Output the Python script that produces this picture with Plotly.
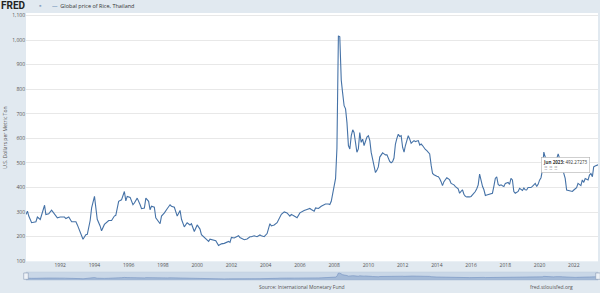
import plotly.graph_objects as go

# ---- data ----
dates = [
"1990-01","1990-02","1990-03","1990-05","1990-08","1990-09","1990-11",
"1991-02","1991-03","1991-05","1991-07","1991-09","1991-11",
"1992-01","1992-04","1992-05","1992-07","1992-09","1992-12",
"1993-01","1993-03","1993-05","1993-07","1993-08","1993-10","1993-11",
"1994-01","1994-03","1994-05","1994-06","1994-08","1994-11",
"1995-01","1995-03","1995-04","1995-06","1995-08","1995-10","1995-11","1995-12",
"1996-02","1996-04","1996-05","1996-07","1996-09","1996-10","1996-12",
"1997-01","1997-03","1997-04","1997-05","1997-07","1997-08","1997-11","1997-12",
"1998-02","1998-04","1998-06","1998-07","1998-09","1998-11",
"1999-01","1999-02","1999-04","1999-06","1999-08","1999-09","1999-11",
"2000-01","2000-03","2000-04","2000-06","2000-09","2000-10",
"2001-01","2001-02","2001-04","2001-06","2001-08","2001-11","2001-12",
"2002-01","2002-03","2002-06","2002-07","2002-10","2002-12",
"2003-02","2003-03","2003-05","2003-07","2003-09","2003-10","2003-12",
"2004-02","2004-04","2004-05","2004-07","2004-09","2004-11","2004-12",
"2005-02","2005-04","2005-06","2005-07","2005-09","2005-11",
"2006-01","2006-02","2006-04","2006-06","2006-08","2006-09","2006-11","2006-12",
"2007-02","2007-04","2007-06","2007-07","2007-09","2007-10","2007-11","2007-12",
"2008-01","2008-02","2008-03","2008-04","2008-05","2008-06","2008-07","2008-08",
"2008-09","2008-10","2008-11","2008-12",
"2009-01","2009-02","2009-03","2009-04","2009-05","2009-06","2009-07","2009-08",
"2009-09","2009-10","2009-11","2009-12",
"2010-01","2010-02","2010-03","2010-04","2010-05","2010-06","2010-07","2010-08",
"2010-09","2010-10","2010-11","2010-12",
"2011-01","2011-02","2011-03","2011-04","2011-05","2011-06","2011-07","2011-08",
"2011-09","2011-10","2011-11","2011-12",
"2012-01","2012-02","2012-03","2012-04","2012-05","2012-06","2012-07","2012-08",
"2012-09","2012-10","2012-11","2012-12",
"2013-01","2013-02","2013-03","2013-04","2013-05","2013-06","2013-07","2013-08",
"2013-09","2013-10","2013-11","2013-12",
"2014-01","2014-02","2014-03","2014-04","2014-05","2014-06","2014-07","2014-08",
"2014-09","2014-10","2014-11","2014-12",
"2015-01","2015-02","2015-03","2015-04","2015-05","2015-06","2015-07","2015-08",
"2015-09","2015-10","2015-11","2015-12",
"2016-01","2016-02","2016-03","2016-04","2016-05","2016-06","2016-07","2016-08",
"2016-09","2016-10","2016-11","2016-12",
"2017-01","2017-02","2017-03","2017-04","2017-05","2017-06","2017-07","2017-08",
"2017-09","2017-10","2017-11","2017-12",
"2018-01","2018-02","2018-03","2018-04","2018-05","2018-06","2018-07","2018-08",
"2018-09","2018-10","2018-11","2018-12",
"2019-01","2019-02","2019-03","2019-04","2019-05","2019-06","2019-07","2019-08",
"2019-09","2019-10","2019-11","2019-12",
"2020-01","2020-02","2020-03","2020-04","2020-05","2020-06","2020-07","2020-08",
"2020-09","2020-10","2020-11","2020-12",
"2021-01","2021-02","2021-03","2021-04","2021-05","2021-06","2021-07","2021-08",
"2021-09","2021-10","2021-11","2021-12",
"2022-01","2022-02","2022-03","2022-04","2022-05","2022-06","2022-07","2022-08",
"2022-09","2022-10","2022-11","2022-12",
"2023-01","2023-02","2023-03","2023-04","2023-05","2023-06",
]
rice_price = [
290,304,284,257,261,280,270,
328,290,293,308,293,277,
280,280,274,280,261,261,
248,217,190,208,210,266,317,
364,271,244,224,250,266,
266,284,287,344,350,384,346,364,
360,330,337,357,330,314,317,
357,344,310,324,320,277,253,284,
297,314,330,324,320,284,
307,271,240,257,248,253,221,
248,231,208,197,181,190,
186,184,164,171,173,181,177,
197,195,204,197,188,191,
200,200,204,200,207,204,200,
213,253,244,248,257,280,291,
301,297,284,291,284,277,
297,301,307,311,315,311,304,317,
315,324,328,333,333,331,344,377,
397,437,560,1017,1013,837,784,733,
720,664,571,557,
611,635,624,571,544,557,624,584,
597,571,591,605,
611,591,544,520,491,461,470,484,
524,533,541,537,
533,533,518,506,501,505,520,577,
600,617,608,611,
564,544,571,590,611,597,580,586,
591,587,590,591,
573,577,571,560,555,550,544,537,
491,457,452,448,
446,444,437,424,408,424,432,440,
436,431,417,414,
411,404,400,395,377,384,391,373,
364,362,361,362,
364,370,377,384,395,411,455,424,
405,391,368,370,
371,373,375,377,405,437,444,413,
408,411,407,404,
417,419,421,413,437,431,384,377,
380,384,397,392,
388,398,391,390,400,400,400,405,
411,417,404,413,
430,440,470,544,524,505,497,491,
497,484,464,497,
515,537,520,497,471,455,437,390,
388,386,385,384,
390,395,400,417,412,408,431,421,
437,434,431,451,
457,444,484,488,490,492.27273,
]
series_name = "Global price of Rice, Thailand"
y_ticks = [100, 200, 300, 400, 500, 600, 700, 800, 900, 1000, 1100]
x_tick_years = [1992, 1994, 1996, 1998, 2000, 2002, 2004, 2006, 2008, 2010,
                2012, 2014, 2016, 2018, 2020, 2022]
tooltip_label = "Jun 2023"
tooltip_value = "492.27273"

dates = [d + "-01" for d in dates]
x_tick_vals = [f"{y}-01-01" for y in x_tick_years]
x_tick_text = [str(y) for y in x_tick_years]

LINE = "#4572a7"
BG = "#e1e9f0"
FONT = "Open Sans, Roboto, sans-serif"
W, H = 600, 293
ML, MR, MT, MB = 26, 2, 13, 0
PW = W - ML - MR
PH = H - MT - MB

def px_x(x):
    return (x - ML) / PW

def px_y(y):
    return (H - MB - y) / PH

fig = go.Figure()
fig.add_trace(go.Scatter(x=dates, y=rice_price, mode="lines", name=series_name,
                         line=dict(color=LINE, width=1.1), xaxis="x", yaxis="y",
                         showlegend=False))
fig.add_trace(go.Scatter(x=dates, y=rice_price, mode="lines", fill="tozeroy",
                         line=dict(color="#7b98c4", width=0.7),
                         fillcolor="rgba(120,150,195,0.45)",
                         xaxis="x2", yaxis="y2", showlegend=False, hoverinfo="skip"))

xr = [dates[0], dates[-1]]
main_bottom = px_y(264)
fig.update_layout(
    width=W, height=H,
    margin=dict(l=ML, r=MR, t=MT, b=MB),
    paper_bgcolor=BG, plot_bgcolor="white",
    font=dict(family=FONT, size=5, color="#555"),
    xaxis=dict(domain=[0, 1], anchor="y", range=xr, type="date",
               tickvals=x_tick_vals, ticktext=x_tick_text,
               showgrid=False, zeroline=False, showline=False, ticks="",
               tickfont=dict(size=5, color="#555")),
    yaxis=dict(domain=[main_bottom, 1], anchor="x", range=[100, 1110],
               tickvals=y_ticks, tickformat=",", showgrid=True,
               gridcolor="#e8e8e8", gridwidth=0.8, zeroline=False,
               showline=False, ticks="", tickfont=dict(size=5, color="#555")),
    xaxis2=dict(domain=[0, 1], anchor="y2", range=xr, type="date",
                visible=False),
    yaxis2=dict(domain=[px_y(283), px_y(275)], anchor="x2", range=[0, 1150],
                visible=False),
)

# range-slider background
fig.add_shape(type="rect", xref="x2 domain", yref="y2 domain", x0=0, x1=1, y0=0, y1=1,
              fillcolor="#c9d7e7", line=dict(color="#b4c4d8", width=0.6), layer="below")
# slider handles
for hx in (0, 1):
    fig.add_shape(type="rect", xref="x2 domain", yref="y2 domain",
                  x0=hx - 0.004, x1=hx + 0.004, y0=0.1, y1=0.9,
                  fillcolor="#eef2f7", line=dict(color="#8a9bb3", width=0.6))

# FRED logo and legend
fig.add_annotation(text="<b>FRED</b>", xref="paper", yref="paper",
                   x=px_x(0), y=px_y(5.2), xanchor="left", yanchor="middle",
                   showarrow=False, borderpad=0,
                   font=dict(family="Roboto, sans-serif", size=10, color="#232323"))
fig.add_annotation(text="▪", xref="paper", yref="paper",
                   x=px_x(37), y=px_y(5.5), xanchor="left", yanchor="middle",
                   showarrow=False, font=dict(size=7, color="#8aa3c4"))
fig.add_annotation(text=f"<span style='color:{LINE}'>—</span>  {series_name}",
                   xref="paper", yref="paper", x=px_x(50), y=px_y(5.5),
                   xanchor="left", yanchor="middle", showarrow=False,
                   font=dict(size=5.5, color="#333"))

# y axis title
fig.add_annotation(text="U.S. Dollars per Metric Ton", xref="paper", yref="paper",
                   x=px_x(5), y=px_y(139), textangle=-90, xanchor="center",
                   yanchor="middle", showarrow=False, font=dict(size=5, color="#555"))

# footer
fig.add_annotation(text="Source: International Monetary Fund", xref="paper", yref="paper",
                   x=px_x(302), y=px_y(289.5), xanchor="center", yanchor="middle",
                   showarrow=False, font=dict(size=5, color="#555"))
fig.add_annotation(text="fred.stlouisfed.org", xref="paper", yref="paper",
                   x=px_x(575), y=px_y(289.5), xanchor="right", yanchor="middle",
                   showarrow=False, font=dict(size=5, color="#555"))

# tooltip
fig.add_annotation(text=f"<b>{tooltip_label}:</b> {tooltip_value}<br><span style='color:#999'>⠿ ⠿ ⠿</span>",
                   xref="paper", yref="paper", x=px_x(565), y=px_y(166.5),
                   xanchor="center", yanchor="middle", showarrow=False,
                   align="left", bgcolor="white", bordercolor="#b0b0b0", borderwidth=0.6,
                   borderpad=1.5, font=dict(size=4.5, color="#333"))

fig.write_html("out.html")
